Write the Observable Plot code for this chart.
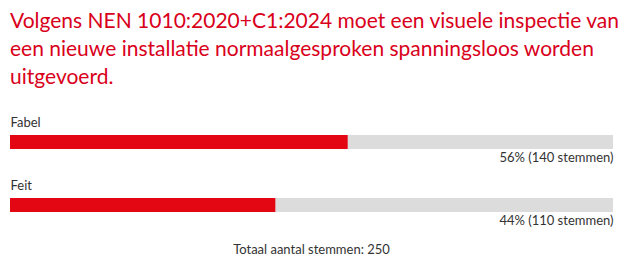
<!DOCTYPE html>
<html>
<head>
<meta charset="utf-8">
<script src="https://cdn.jsdelivr.net/npm/d3@7"></script>
<script src="https://cdn.jsdelivr.net/npm/@observablehq/plot@0.6"></script>
<style>
  html, body { margin: 0; padding: 0; background: #fff; }
  #wrap { width: 629px; height: 261px; position: relative; overflow: hidden; }
  #title { position: absolute; left: 10px; top: 6px; width: 615px; color: #d9001b; font-family: Lato, sans-serif; font-size: 21px; line-height: 28px; }
  #chart { position: absolute; left: 0; top: 105px; }
  #caption { position: absolute; left: 10px; width: 603px; top: 241px; text-align: center; font-family: Lato, sans-serif; font-size: 13px; color: #333; }
</style>
</head>
<body>
<div id="wrap">
  <div id="title">Volgens NEN 1010:2020+C1:2024 moet een visuele inspectie van een nieuwe installatie normaalgesproken spanningsloos worden uitgevoerd.</div>
  <div id="chart"></div>
  <div id="caption"></div>
</div>
<script>
const categories = ["Fabel", "Feit"];
const percentages = [56, 44];
const votes = [140, 110];
const totalVotes = 250;

const data = categories.map((c, i) => ({
  category: c,
  pct: percentages[i],
  votes: votes[i],
  label: `${percentages[i]}% (${votes[i]} stemmen)`
}));

const chart = Plot.plot({
  width: 629,
  height: 135,
  marginLeft: 10,
  marginRight: 16,
  marginTop: 4,
  marginBottom: 4,
  style: { fontFamily: "Lato, sans-serif", fontSize: "13px", color: "#333", background: "transparent" },
  x: { domain: [0, 100], axis: null },
  y: { domain: categories, axis: null, padding: 0 },
  marks: [
    Plot.barX(data, { x1: 0, x2: 100, y: "category", fill: "#dcdcdc", insetTop: 25, insetBottom: 24 }),
    Plot.barX(data, { x1: 0, x2: "pct", y: "category", fill: "#e30613", insetTop: 25, insetBottom: 24 }),
    Plot.text(data, { x: 0, y: "category", text: "category", textAnchor: "start", dy: -19, fill: "#333" }),
    Plot.text(data, { x: 100, y: "category", text: "label", textAnchor: "end", dy: 16, fill: "#333" })
  ]
});
document.getElementById("chart").appendChild(chart);
document.getElementById("caption").textContent = `Totaal aantal stemmen: ${totalVotes}`;
</script>
</body>
</html>
